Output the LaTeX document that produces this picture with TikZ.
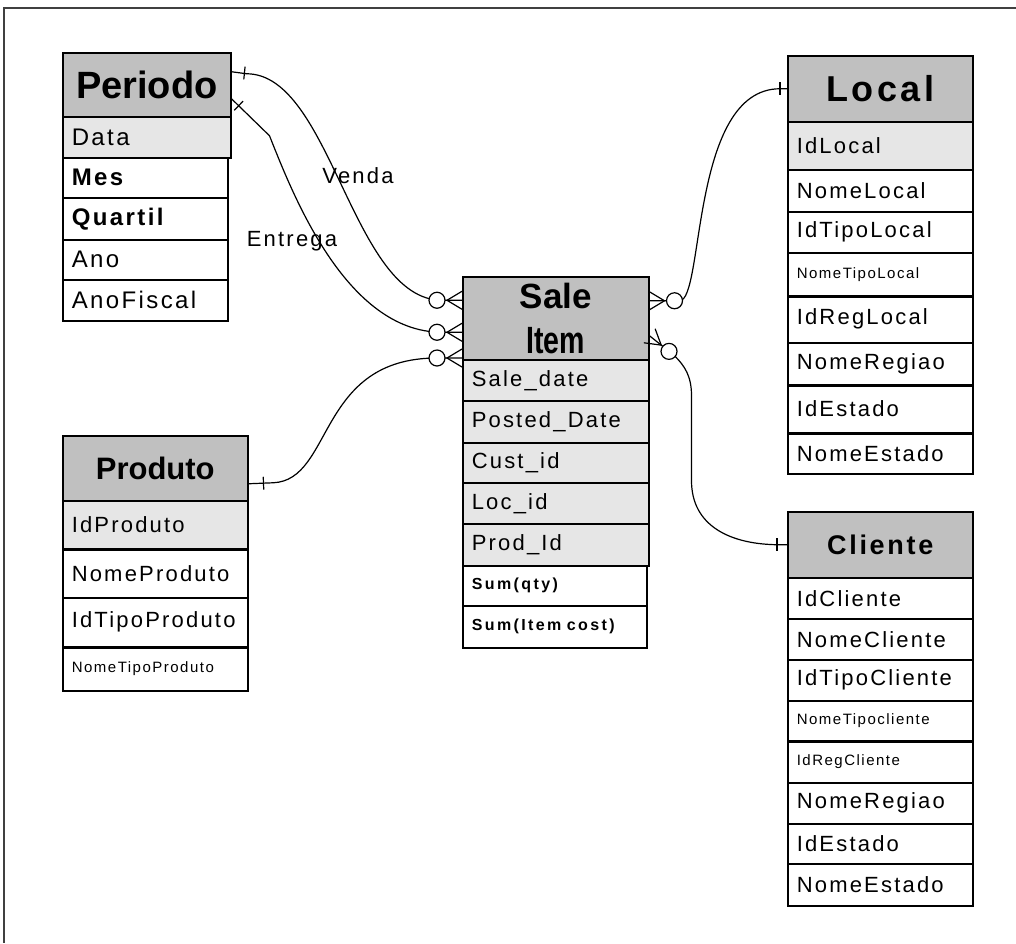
\documentclass[tikz,border=0pt]{standalone}
\usepackage{graphicx}
\usepackage{fontspec}
\setmainfont{Liberation Sans}
\newfontfamily\fieldfont{Liberation Sans}[LetterSpace=10]
\newfontfamily\sumfont{Liberation Sans}[LetterSpace=15]
\usetikzlibrary{calc}

\definecolor{hdrgrey}{RGB}{192,192,192}
\definecolor{keygrey}{RGB}{230,230,230}
\definecolor{framegrey}{RGB}{64,64,64}

% "zero or many" end: crow's foot on the entity edge #1, circle further along towards #2
\newcommand{\crowfoot}[2]{%
  \draw[conn] ($(#1)!4.5pt!90:(#2)$) -- ($(#1)!7.5pt!(#2)$) -- ($(#1)!4.5pt!-90:(#2)$);
  \draw[conn, fill=white] ($(#1)!12.5pt!(#2)$) circle[radius=4pt];}

% "one" end: a short bar across the line, #3 away from the entity edge #1
\newcommand{\onetick}[3]{%
  \coordinate (#1-tk) at ($(#1)!#3!(#2)$);
  \draw[conn] ($(#1-tk)!3.2pt!90:(#1)$) -- ($(#1-tk)!3.2pt!-90:(#1)$);}

\begin{document}
\begin{tikzpicture}[x=0.5pt,y=-0.5pt,
  cell/.style={draw=black, line width=0.75pt, anchor=north west,
    inner xsep=4.5pt, inner ysep=0pt, align=left},
  hdr/.style={cell, fill=hdrgrey, align=center},
  key/.style={cell, fill=keygrey},
  plain/.style={cell, fill=white},
  txt/.style={font=\fieldfont\fontsize{11}{13}\selectfont},
  bigtxt/.style={font=\fieldfont\fontsize{12}{14}\selectfont},
  boldtxt/.style={font=\fieldfont\bfseries\fontsize{12}{14}\selectfont},
  smalltxt/.style={font=\fieldfont\fontsize{7.5}{9}\selectfont},
  sumtxt/.style={font=\sumfont\bfseries\fontsize{8}{10}\selectfont},
  conn/.style={draw=black, line width=0.6pt},
  sepline/.style={draw=black, line width=1.4pt},
  lbl/.style={font=\fieldfont\fontsize{11}{13}\selectfont, inner sep=0pt}]

\useasboundingbox (0,0) rectangle (1016,943);

% outer frame (top and left edges)
\draw[framegrey, line width=1pt] (1016,8) -- (3.5,8) -- (3.5,943);

% ---------- Periodo ----------
\node[hdr, text width=75pt, minimum height=32pt,
  font=\bfseries\fontsize{19}{22}\selectfont] (per-h) at (62,52) {Periodo};
\node[key, bigtxt, text width=75pt, minimum height=20.5pt] (per-1) at (62,116) {Data};
\node[plain, boldtxt, text width=73.5pt, minimum height=20pt] (per-2) at (62,157) {Mes};
\node[plain, boldtxt, text width=73.5pt, minimum height=21pt] (per-3) at (62,197) {Quartil};
\node[plain, bigtxt, text width=73.5pt, minimum height=20pt] (per-4) at (62,239) {Ano};
\node[plain, bigtxt, text width=73.5pt, minimum height=20.5pt] (per-5) at (62,279) {AnoFiscal};

% ---------- Sale Item ----------
\node[hdr, text width=84pt, minimum height=41.5pt,
  font=\bfseries\fontsize{17.5}{22.5}\selectfont] (sal-h) at (462,276)
  {Sale\\\scalebox{0.75}[1]{\fontsize{19}{22.5}\selectfont Item}\hspace*{11pt}};
\node[key, txt, text width=84pt, minimum height=20.5pt] (sal-1) at (462,359) {Sale\_date};
\node[key, txt, text width=84pt, minimum height=21pt] (sal-2) at (462,400) {Posted\_Date};
\node[key, txt, text width=84pt, minimum height=20pt] (sal-3) at (462,442) {Cust\_id};
\node[key, txt, text width=84pt, minimum height=20.5pt] (sal-4) at (462,482) {Loc\_id};
\node[key, txt, text width=84pt, minimum height=21pt] (sal-5) at (462,523) {Prod\_Id};
\node[plain, sumtxt, text width=83pt, minimum height=20pt] (sal-6) at (462,565) {Sum(qty)};
\node[plain, sumtxt, text width=83pt, minimum height=21pt] (sal-7) at (462,605) {Sum(Item cost)};

% ---------- Local ----------
\node[hdr, text width=83.5pt, minimum height=33pt,
  font=\fieldfont\bfseries\fontsize{18}{21}\selectfont] (loc-h) at (787,55) {Local};
\node[key, txt, text width=83.5pt, minimum height=24pt] (loc-1) at (787,121) {IdLocal};
\node[plain, txt, text width=83.5pt, minimum height=21pt] (loc-2) at (787,169) {NomeLocal};
\node[plain, txt, text width=83.5pt, minimum height=20.5pt] (loc-3) at (787,211) {IdTipoLocal};
\node[plain, smalltxt, text width=83.5pt, minimum height=21.5pt] (loc-4) at (787,252) {NomeTipoLocal};
\node[plain, txt, text width=83.5pt, minimum height=23.5pt] (loc-5) at (787,295) {IdRegLocal};
\node[plain, txt, text width=83.5pt, minimum height=21pt] (loc-6) at (787,342) {NomeRegiao};
\node[plain, txt, text width=83.5pt, minimum height=24pt] (loc-7) at (787,384) {IdEstado};
\node[plain, txt, text width=83.5pt, minimum height=20.5pt] (loc-8) at (787,432) {NomeEstado};
\draw[sepline] (loc-4.south west) -- (loc-4.south east);
\draw[sepline] (loc-6.south west) -- (loc-6.south east);
\draw[sepline] (loc-7.south west) -- (loc-7.south east);

% ---------- Cliente ----------
\node[hdr, text width=83.5pt, minimum height=33pt,
  font=\fieldfont\bfseries\fontsize{13.5}{16}\selectfont] (cli-h) at (787,511) {Cliente};
\node[plain, txt, text width=83.5pt, minimum height=20.5pt] (cli-1) at (787,577) {IdCliente};
\node[plain, txt, text width=83.5pt, minimum height=20.5pt] (cli-2) at (787,618) {NomeCliente};
\node[plain, txt, text width=83.5pt, minimum height=20.5pt] (cli-3) at (787,659) {IdTipoCliente};
\node[plain, smalltxt, text width=83.5pt, minimum height=20pt] (cli-4) at (787,700) {NomeTipocliente};
\node[plain, smalltxt, text width=83.5pt, minimum height=21pt] (cli-5) at (787,740) {IdRegCliente};
\node[plain, txt, text width=83.5pt, minimum height=20.5pt] (cli-6) at (787,782) {NomeRegiao};
\node[plain, txt, text width=83.5pt, minimum height=20pt] (cli-7) at (787,823) {IdEstado};
\node[plain, txt, text width=83.5pt, minimum height=21pt] (cli-8) at (787,863) {NomeEstado};
\draw[sepline] (cli-4.south west) -- (cli-4.south east);

% ---------- Produto ----------
\node[hdr, text width=83.5pt, minimum height=32.5pt,
  font=\bfseries\fontsize{15.5}{18}\selectfont] (pro-h) at (62,435) {Produto};
\node[key, txt, text width=83.5pt, minimum height=24pt] (pro-1) at (62,500) {IdProduto};
\node[plain, txt, text width=83.5pt, minimum height=24.5pt] (pro-2) at (62,548) {NomeProduto};
\node[plain, txt, text width=83.5pt, minimum height=24.5pt] (pro-3) at (62,597) {IdTipoProduto};
\node[plain, smalltxt, text width=83.5pt, minimum height=22pt] (pro-4) at (62,646) {NomeTipoProduto};
\draw[sepline] (pro-1.south west) -- (pro-1.south east);
\draw[sepline] (pro-3.south west) -- (pro-3.south east);

% ---------- relationships ----------
% Venda: Periodo -> Sale Item
\coordinate (v-a) at ($(per-h.east)+(0,-13)$);
\coordinate (v-a2) at ($(v-a)+(20,2)$);
\coordinate (v-b) at ($(sal-h.west)+(0,-18)$);
\coordinate (v-b2) at ($(v-b)+(-20,0)$);
\draw[conn] (v-a) -- ++(15,2) .. controls +(85,0) and +(-90,0) .. (v-b2) -- (v-b);
\onetick{v-a}{v-a2}{6.5pt}
\crowfoot{v-b}{v-b2}
\node[lbl] (venda) at (358,176) {Venda};

% Entrega: Periodo -> Sale Item
\coordinate (e-a) at ($(per-h.east)+(0,14)$);
\coordinate (e-a2) at ($(e-a)+(38,37)$);
\coordinate (e-b) at ($(sal-h.west)+(0,14)$);
\coordinate (e-b2) at ($(e-b)+(-20,0)$);
\draw[conn] (e-a) -- (e-a2) .. controls +(22,55) and +(-97,0) .. (e-b2) -- (e-b);
\onetick{e-a}{e-a2}{5pt}
\crowfoot{e-b}{e-b2}
\node[lbl] (entrega) at (292,241) {Entrega};

% Produto -> Sale Item
\coordinate (p-a) at ($(pro-h.east)+(0,15.5)$);
\coordinate (p-a2) at ($(p-a)+(25,-1)$);
\coordinate (p-b) at ($(sal-h.south west)+(0,-2.5)$);
\coordinate (p-b2) at ($(p-b)+(-25,0)$);
\draw[conn] (p-a) -- (p-a2) .. controls +(60,-3) and +(-120,0) .. (p-b2) -- (p-b);
\onetick{p-a}{p-a2}{7.5pt}
\crowfoot{p-b}{p-b2}

% Sale Item -> Local
\coordinate (l-a) at ($(sal-h.east)+(0,-17.5)$);
\coordinate (l-a2) at ($(l-a)+(30,0)$);
\coordinate (l-b) at (loc-h.west);
\coordinate (l-b2) at ($(l-b)+(-7,0)$);
\draw[conn] (l-a) -- (l-a2) .. controls +(25,0) and +(-90,0) .. (l-b2) -- (l-b);
\crowfoot{l-a}{l-a2}
\onetick{l-b}{l-b2}{3.5pt}

% Sale Item -> Cliente
\coordinate (c-a) at ($(sal-h.east)+(0,17.5)$);
\coordinate (c-a2) at ($(c-a)+(25,20)$);
\coordinate (c-m1) at ($(c-a)+(42,60)$);
\coordinate (c-m2) at ($(c-a)+(42,145)$);
\coordinate (c-b) at (cli-h.west);
\coordinate (c-b2) at ($(c-b)+(-7,0)$);
\draw[conn] (c-a) -- (c-a2) .. controls +(10,10) and +(0,-20) .. (c-m1) -- (c-m2)
  .. controls +(0,45) and +(-50,0) .. (c-b2) -- (c-b);
\crowfoot{c-a}{c-a2}
\onetick{c-b}{c-b2}{5pt}

\end{tikzpicture}
\end{document}
